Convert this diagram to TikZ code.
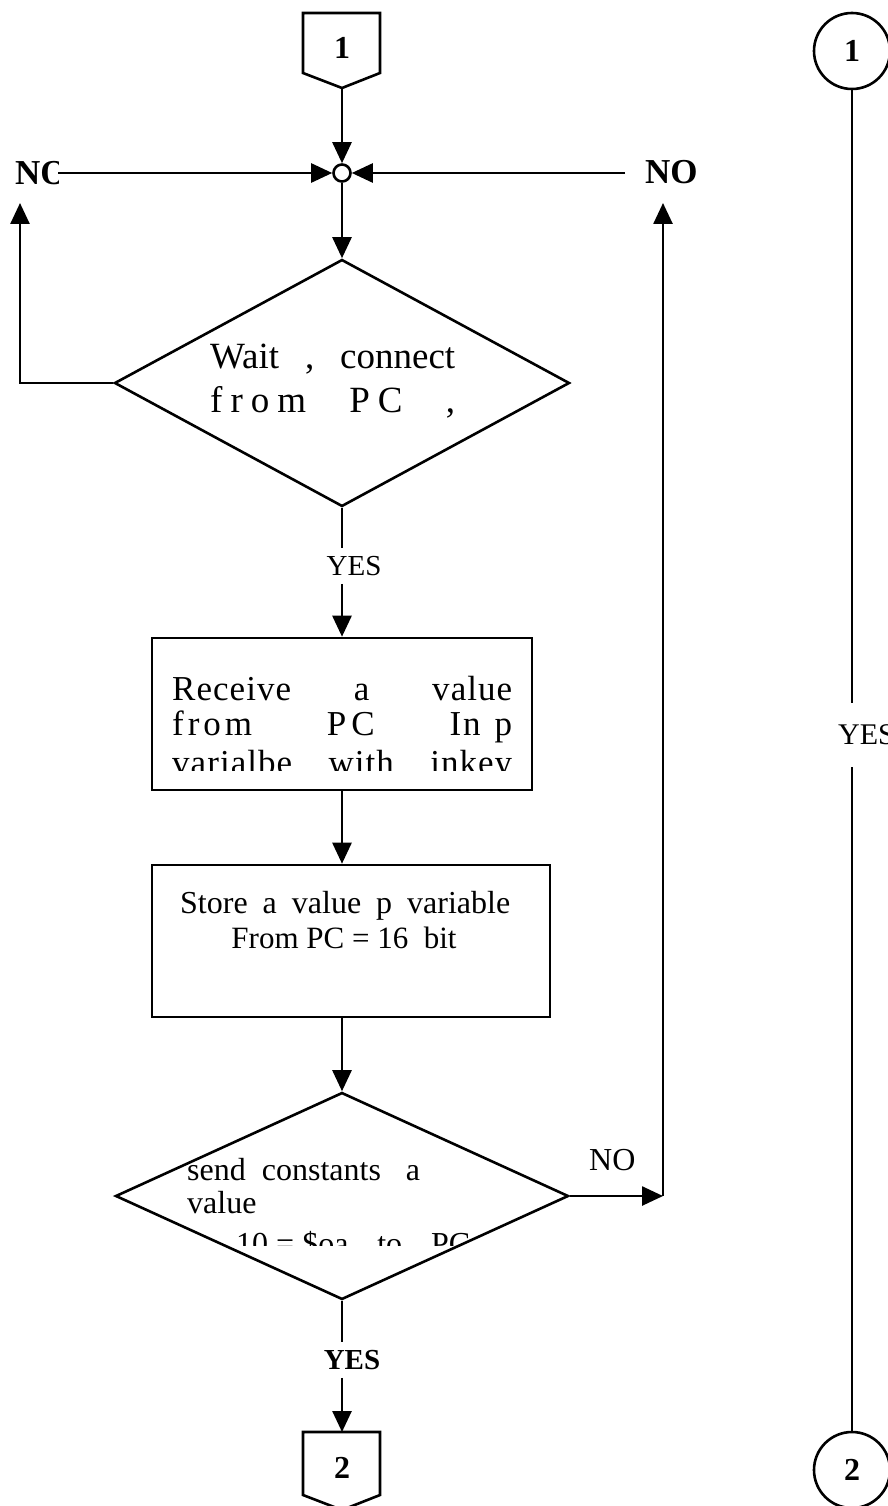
\documentclass[tikz,border=0pt]{standalone}
\usepackage{fontspec}
\setmainfont{Liberation Serif}
\newfontfamily\spacedserif[LetterSpace=3]{Liberation Serif}
\usetikzlibrary{arrows.meta,shapes.geometric}

\tikzset{
  wire/.style={line width=2.6pt},
  flow/.style={line width=2.6pt, -{Triangle[length=21pt,width=19pt]}},
  decision/.style={draw, diamond, line width=2.6pt, inner sep=0pt},
  stepbox/.style={draw, rectangle, line width=2.6pt, inner sep=0pt},
  circlink/.style={draw, circle, line width=2.6pt, inner sep=0pt, minimum size=76pt,
    font=\fontsize{32}{38}\selectfont\bfseries},
  junction/.style={draw, circle, line width=2.6pt, inner sep=0pt, minimum size=17pt, fill=white},
  linetext/.style={anchor=base west, inner sep=0pt},
  bigtext/.style={font=\fontsize{37}{44}\selectfont},
  boxtext/.style={font=\spacedserif\fontsize{35}{40}\selectfont},
  midtext/.style={font=\fontsize{32}{38}\selectfont},
  boldlabel/.style={inner sep=0pt, font=\fontsize{35}{40}\selectfont\bfseries},
  pagenum/.style={font=\fontsize{32}{38}\selectfont\bfseries},
}

\begin{document}
\begin{tikzpicture}[x=1pt, y=-1pt, line join=miter]
  \useasboundingbox (0,0) rectangle (888,1506);
  \clip (0,0) rectangle (888,1506);

  % ---------------- left chart ----------------
  % off-page connector 1
  \draw[wire] (303,13) -- (380,13) -- (380,73) -- (342,88) -- (303,73) -- cycle;
  \node[pagenum] (p1) at (342,48) {1};
  \coordinate (p1tip) at (342,88);

  % junction
  \node[junction] (j) at (342,173) {};

  % decision: wait for PC
  \node[decision, minimum width=455pt, minimum height=247pt] (dA) at (342,383) {};
  \node[linetext, bigtext] (dA1) at (210,368) {\hbox to 245pt{Wait\hfill ,\hfill connect}};
  \node[linetext, bigtext] (dA2) at (210,412)
    {\hbox to 245pt{f\kern8pt r\kern8pt o\kern8pt m\hfill P\kern8pt C\hfill ,}};

  % receive box
  \node[stepbox, minimum width=380pt, minimum height=152pt] (recv) at (342,714) {};
  \node[linetext, boxtext] (r1) at (172,700) {\hbox to 340pt{Receive\hfill a\hfill value}};
  \node[linetext, boxtext] (r2) at (172,735)
    {\hbox to 340pt{f\kern4pt r\kern4pt o\kern4pt m\hfill P\kern5pt C\hfill I\kern2pt n\kern14pt p}};
  \begin{scope}
    \clip (154,740) rectangle (530,770);
    \node[linetext, boxtext] (r3) at (172,774) {\hbox to 340pt{varialbe\hfill with\hfill inkey}};
  \end{scope}

  % store box
  \node[stepbox, minimum width=398pt, minimum height=152pt] (store) at (351,941) {};
  \node[linetext, midtext] (s1) at (180,913)
    {\hbox to 330pt{Store\hfill a\hfill value\hfill p\hfill variable}};
  \node[anchor=base, inner sep=0pt, font=\fontsize{31}{36}\selectfont] (s2) at (344,948) {From PC = 16\ \ bit};

  % decision: send constant
  \node[decision, minimum width=453pt, minimum height=207pt] (dB) at (342,1196) {};
  \node[linetext, midtext] (b1) at (187,1180) {\hbox to 233pt{send\ \ constants\hfill a}};
  \node[linetext, midtext] (b2) at (187,1213) {value};
  \begin{scope}
    \clip (150,1200) rectangle (540,1245);
    \node[linetext, midtext] (b3) at (236,1254)
      {\hbox to 234pt{10 = \$oa\hfill to\hfill PC}};
  \end{scope}

  % off-page connector 2
  \draw[wire] (303,1432) -- (380,1432) -- (380,1495) -- (342,1510) -- (303,1495) -- cycle;
  \node[pagenum] (p2) at (342,1468) {2};
  \coordinate (p2top) at (342,1432);

  % labels
  \begin{scope}
    \clip (0,140) rectangle (58,205);
    \node[boldlabel, anchor=base west] (noL) at (15,185) {NO};
  \end{scope}
  \coordinate (noLend) at (58,173);
  \node[boldlabel, anchor=base west, inner xsep=20pt] (noR) at (625,184) {NO};
  \node[inner sep=8pt, font=\fontsize{29}{34}\selectfont] (yesA) at (354,566) {YES};
  \node[inner sep=8pt, font=\fontsize{29}{34}\selectfont\bfseries] (yesB) at (352,1360) {YES};
  \node[anchor=base west, inner sep=0pt, font=\fontsize{32}{38}\selectfont] (noB) at (589,1170) {NO};

  % connectors
  \draw[flow] (p1tip) -- (j.north);
  \draw[flow] (noLend) -- (j.west);
  \draw[flow] (noR.west |- j.east) -- (j.east);
  \draw[flow] (j.south) -- (dA.north);
  \coordinate (leftup) at (20,203);
  \draw[flow] (dA.west) -| (leftup);
  \draw[wire] (dA.south) -- (dA.south |- yesA.north);
  \draw[flow] (dA.south |- yesA.south) -- (recv.north);
  \draw[flow] (recv.south) -- (store.north -| recv.south);
  \draw[flow] (store.south -| dB.north) -- (dB.north);
  \coordinate (rturn) at (663,1196);
  \coordinate (rightup) at (663,203);
  \draw[flow] (dB.east) -- (rturn);
  \draw[flow] (rturn) -- (rightup);
  \draw[wire] (dB.south) -- (dB.south |- yesB.north);
  \draw[flow] (dB.south |- yesB.south) -- (p2top);

  % ---------------- right column ----------------
  \node[circlink] (c1) at (852,51) {1};
  \node[circlink] (c2) at (852,1470) {2};
  \node[inner xsep=0pt, inner ysep=22pt, anchor=west, font=\fontsize{30}{36}\selectfont] (yesR) at (838,735) {YES};
  \draw[wire] (c1.south) -- (c1.south |- yesR.north);
  \draw[wire] (c1.south |- yesR.south) -- (c2.north);
\end{tikzpicture}
\end{document}
